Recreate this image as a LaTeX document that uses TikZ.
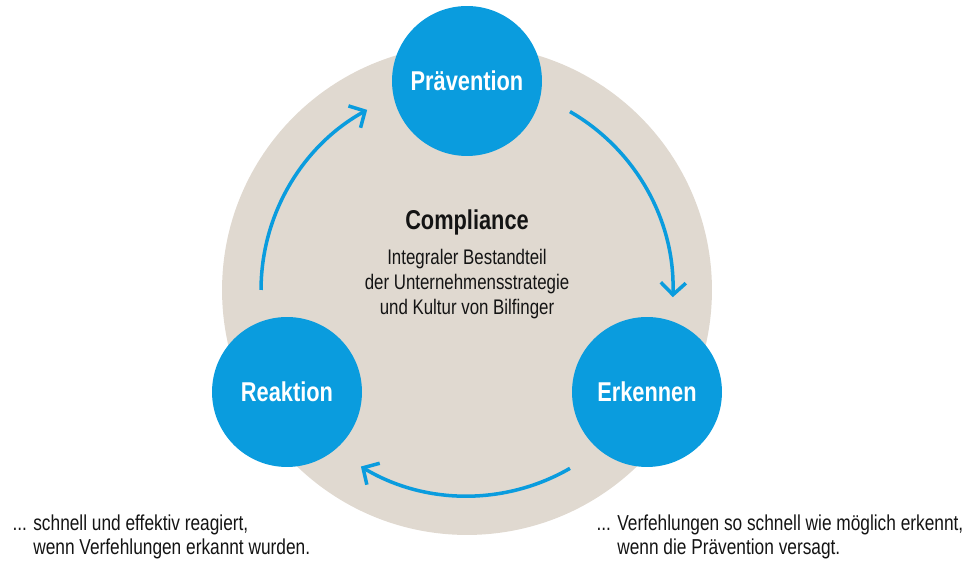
\documentclass[tikz,border=0pt]{standalone}
\usepackage{fontspec}
\setmainfont[FakeStretch=0.8]{Liberation Sans}
\usepackage{tikz}
\usetikzlibrary{arrows.meta, positioning, calc}
\definecolor{phaseblue}{HTML}{0A9CDE}
\definecolor{sand}{HTML}{E0D9D0}
\definecolor{ink}{HTML}{141414}
\tikzstyle{phase} = [circle, minimum size=3cm, inner sep=0pt, fill=phaseblue, text=white, font=\fontsize{15.5}{18}\selectfont\bfseries]
\tikzstyle{loopline} = [line width=2pt, ->, >={Straight Barb[length=2.4mm, width=5mm]}, phaseblue]
\tikzstyle{note} = [align=left, inner sep=0pt, text=ink, font=\fontsize{12}{14.2}\selectfont]

\begin{document}
\begin{tikzpicture}[x=0.02cm, y=0.02cm]
    \useasboundingbox (0,0) rectangle (975,564);

    % Background disc
    \node (core) [circle, fill=sand, minimum size=9.8cm, inner sep=0pt] at (467,274) {};

    % Centre text
    \node (title) [anchor=base, text=ink, font=\fontsize{15.5}{18}\selectfont\bfseries] at (467,334) {Compliance};
    \node (claim) [note, align=center, anchor=north] at (467,315) {Integraler Bestandteil\\der Unternehmensstrategie\\und Kultur von Bilfinger};

    % Nodes
    \node (praev) [phase] at (467,483) {Prävention};
    \node (erk) [phase] at (647,172) {Erkennen};
    \node (reak) [phase] at (287,172) {Reaktion};

    % Cycle arrows
    \coordinate (a1) at ($(core.center)+(60:4.12cm)$);
    \coordinate (a2) at ($(core.center)+(-60:4.12cm)$);
    \coordinate (a3) at ($(core.center)+(180:4.12cm)$);
    \draw [loopline] (a1) arc[start angle=60, end angle=-2, radius=4.12cm];
    \draw [loopline] (a2) arc[start angle=-60, end angle=-121, radius=4.12cm];
    \draw [loopline] (a3) arc[start angle=180, end angle=119, radius=4.12cm];

    % Notes
    \node (noteL) [note, anchor=north west, font=\fontsize{12.3}{14.2}\selectfont] at (33,50) {\llap{... }schnell und effektiv reagiert,\\wenn Verfehlungen erkannt wurden.};
    \node (noteR) [note, anchor=north west, font=\fontsize{12.3}{14.2}\selectfont] at (617,50) {\llap{... }Verfehlungen so schnell wie möglich erkennt,\\wenn die Prävention versagt.};

\end{tikzpicture}
\end{document}
